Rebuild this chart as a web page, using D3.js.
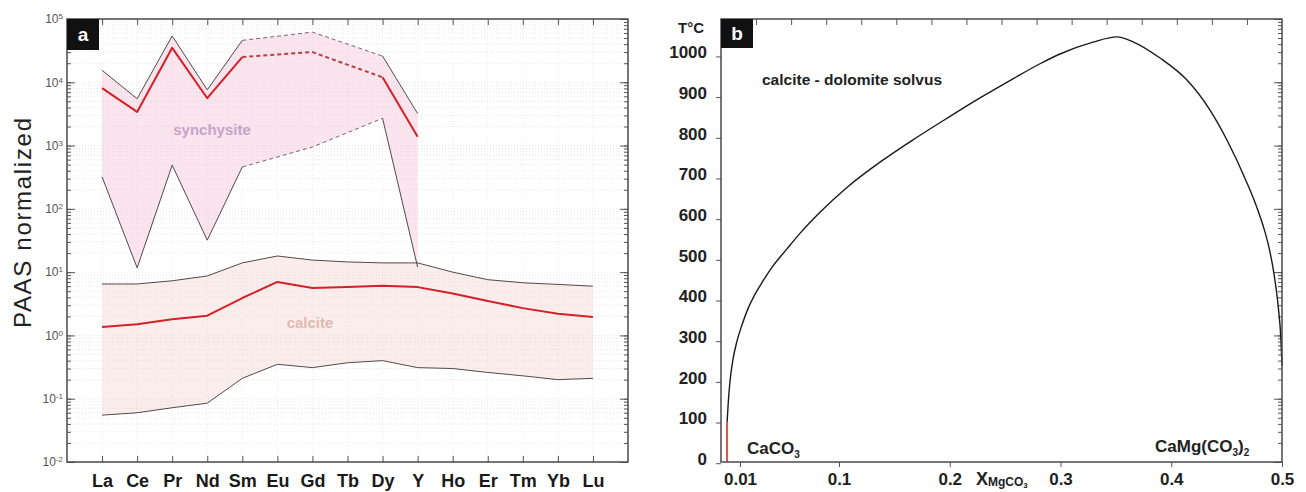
<!DOCTYPE html>
<html><head><meta charset="utf-8">
<script src="https://cdn.jsdelivr.net/npm/d3@7"></script>
<style>
body{margin:0;background:#fff;}
svg{display:block;font-family:"Liberation Sans",Arial,Helvetica,sans-serif;}
</style>
</head><body>
<svg id="c" width="1306" height="492"></svg>
<script>
// ---------- data: panel a (PAAS-normalized REE) ----------
const elements = ["La","Ce","Pr","Nd","Sm","Eu","Gd","Tb","Dy","Y","Ho","Er","Tm","Yb","Lu"];
const synUpper  = [15500, 5500, 54000, 7600, 46000, null, 62000, null, 26000, 3200, null, null, null, null, null];
const synMedian = [8100, 3400, 35000, 5600, 25000, null, 30000, null, 12000, 1380, null, null, null, null, null];
const synLower  = [320, 11.7, 490, 32, 460, null, 950, null, 2700, 12, null, null, null, null, null];
const calUpper  = [6.5, 6.5, 7.3, 8.7, 14, 18, 15.5, 14.5, 14, 14, 10, 7.6, 6.8, 6.4, 6.0];
const calMedian = [1.36, 1.5, 1.8, 2.05, 3.9, 7.0, 5.6, 5.8, 6.1, 5.8, 4.6, 3.5, 2.7, 2.2, 1.95];
const calLower  = [0.055, 0.06, 0.072, 0.085, 0.21, 0.35, 0.31, 0.37, 0.40, 0.31, 0.30, 0.26, 0.23, 0.20, 0.21];
const logDecades = [1e-2, 1e-1, 1e0, 1e1, 1e2, 1e3, 1e4, 1e5];

// ---------- data: panel b (calcite-dolomite solvus) ----------
const solvusX = [0.0032, 0.0037, 0.0047, 0.0063, 0.0084, 0.0118, 0.0173, 0.0236, 0.0309, 0.0400, 0.0527, 0.0645, 0.0827, 0.1072, 0.1370, 0.1668, 0.1975, 0.2273, 0.2571, 0.2815, 0.2996, 0.3294, 0.3510, 0.3655, 0.3899, 0.4142, 0.4350, 0.4504, 0.4684, 0.4765, 0.4828, 0.4883, 0.4928, 0.4964, 0.4991, 0.5000];
const solvusT = [100, 140, 200, 255, 300, 340, 380, 415, 448, 485, 527, 565, 617, 678, 740, 795, 848, 898, 945, 982, 1006, 1035, 1048, 1036, 996, 942, 868, 794, 689, 635, 585, 530, 465, 390, 300, 240];
const redLineX = [0.0032, 0.0032];
const redLineT = [0, 100];
const bTicksX = [0.01, 0.1, 0.2, 0.3, 0.4, 0.5];
const bTicksT = [0, 100, 200, 300, 400, 500, 600, 700, 800, 900, 1000];

// ---------- layout ----------
const svg = d3.select("#c");
const A = {l:67, r:628, t:19, b:462};
const B = {l:721, r:1282, t:19, b:462};

const minorLog = [];
for (let k = -2; k <= 4; k++) for (let m = 1; m <= 9; m++) minorLog.push(m * Math.pow(10, k));
minorLog.push(1e5);

function logFrame(g, P, yScale, xPoints) {
  g.append("g").attr("transform", `translate(${P.r},0)`)
    .call(d3.axisRight(yScale).tickValues(minorLog).tickSize(-4).tickFormat(""))
    .call(s => { s.select(".domain").remove(); s.selectAll("line").attr("stroke", "#555"); });
  g.append("g").attr("transform", `translate(${P.r},0)`)
    .call(d3.axisRight(yScale).tickValues(logDecades).tickSize(-8).tickFormat(""))
    .call(s => { s.select(".domain").remove(); s.selectAll("line").attr("stroke", "#555"); });
  g.append("g").attr("transform", `translate(0,${P.t})`)
    .call(d3.axisTop(xPoints).tickSize(-6).tickFormat(""))
    .call(s => { s.select(".domain").remove(); s.selectAll("line").attr("stroke", "#555"); });
}

// ================= PANEL A =================
const xA = d3.scalePoint().domain(elements).range([A.l, A.r]).padding(1);
const yA = d3.scaleLog().domain([1e-2, 1e5]).range([A.b, A.t]);
const gA = svg.append("g");

gA.append("g").selectAll("line").data(minorLog).join("line")
  .attr("x1", A.l).attr("x2", A.r).attr("y1", d => yA(d)).attr("y2", d => yA(d))
  .attr("stroke", "#dcdcdc").attr("stroke-width", 0.7).attr("stroke-dasharray", "1,2");
gA.append("g").selectAll("line").data(elements).join("line")
  .attr("y1", A.t).attr("y2", A.b).attr("x1", d => xA(d)).attr("x2", d => xA(d))
  .attr("stroke", "#e4e4e4").attr("stroke-width", 0.7).attr("stroke-dasharray", "1,2");

const idxAll = elements.map((e, i) => i);
function defIdx(vals) { return idxAll.filter(i => vals[i] != null); }

function band(upper, lower, fill) {
  const idx = defIdx(upper);
  gA.append("path")
    .attr("d", d3.area().x(i => xA(elements[i])).y0(i => yA(lower[i])).y1(i => yA(upper[i]))(idx))
    .attr("fill", fill).attr("stroke", "none");
}
band(calUpper, calLower, "rgba(246,196,196,0.30)");
band(synUpper, synLower, "rgba(243,185,210,0.38)");

function runs(vals) {
  const idx = defIdx(vals);
  const out = [];
  for (let k = 0; k < idx.length - 1; k++) {
    const dashed = idx[k + 1] - idx[k] > 1;
    const last = out[out.length - 1];
    if (last && last.dashed === dashed) last.pts.push(idx[k + 1]);
    else out.push({dashed, pts: [idx[k], idx[k + 1]]});
  }
  return out;
}
function series(vals, color, width, dashColor) {
  const line = d3.line().x(i => xA(elements[i])).y(i => yA(vals[i]));
  runs(vals).forEach(r => {
    gA.append("path").attr("d", line(r.pts)).attr("fill", "none")
      .attr("stroke", r.dashed ? dashColor : color).attr("stroke-width", width)
      .attr("stroke-dasharray", r.dashed ? "4,3" : null)
      .attr("stroke-linejoin", "round");
  });
}
series(calUpper, "#3d3535", 0.9, "#3d3535");
series(calLower, "#3d3535", 0.9, "#3d3535");
series(calMedian, "#d42027", 2, "#d42027");
series(synUpper, "#3d3535", 0.9, "#6e5258");
series(synLower, "#3d3535", 0.9, "#6e5258");
series(synMedian, "#d42027", 2, "#b8403f");

gA.append("text").attr("x", 212).attr("y", 135).attr("text-anchor", "middle")
  .attr("font-size", 15).attr("font-weight", "bold").attr("fill", "#c9a2c9").text("synchysite");
gA.append("text").attr("x", 310).attr("y", 328).attr("text-anchor", "middle")
  .attr("font-size", 15).attr("font-weight", "bold").attr("fill", "#dcbab4").text("calcite");

// left axis
gA.append("g").attr("transform", `translate(${A.l},0)`)
  .call(d3.axisLeft(yA).tickValues(minorLog).tickSize(-4).tickFormat(""))
  .call(s => { s.select(".domain").remove(); s.selectAll("line").attr("stroke", "#555"); });
gA.append("g").attr("transform", `translate(${A.l},0)`)
  .call(d3.axisLeft(yA).tickValues(logDecades).tickSize(-8).tickPadding(4).tickFormat(""))
  .call(s => {
    s.select(".domain").remove();
    s.selectAll("line").attr("stroke", "#555");
    s.selectAll(".tick text").each(function(d) {
      const t = d3.select(this);
      t.text("10").attr("font-size", 12).attr("fill", "#555").attr("font-family", "Liberation Sans, Arial, sans-serif");
      t.append("tspan").attr("dy", "-0.5em").attr("font-size", 8).text(Math.round(Math.log10(d)));
    });
  });
logFrame(gA, A, yA, xA);

// bottom axis
gA.append("g").attr("transform", `translate(0,${A.b})`)
  .call(d3.axisBottom(xA).tickSize(-6).tickPadding(12))
  .call(s => {
    s.select(".domain").remove();
    s.selectAll("line").attr("stroke", "#555");
    s.selectAll("text").attr("font-size", 18).attr("font-weight", "bold").attr("fill", "#1a1a1a")
      .attr("font-family", "Liberation Sans, Arial, sans-serif");
  });

gA.append("rect").attr("x", A.l).attr("y", A.t).attr("width", A.r - A.l).attr("height", A.b - A.t)
  .attr("fill", "none").attr("stroke", "#4a4a4a").attr("stroke-width", 1.5);

gA.append("text").attr("transform", "translate(22,223) rotate(-90)").attr("text-anchor", "middle")
  .attr("dominant-baseline", "central").attr("font-size", 24).attr("fill", "#222")
  .attr("textLength", 210).attr("lengthAdjust", "spacing").text("PAAS normalized");

gA.append("rect").attr("x", A.l).attr("y", A.t).attr("width", 32).attr("height", 31).attr("fill", "#111");
gA.append("text").attr("x", A.l + 16).attr("y", A.t + 22).attr("text-anchor", "middle")
  .attr("font-size", 19).attr("font-weight", "bold").attr("fill", "#fff").text("a");

// ================= PANEL B =================
const xB = d3.scaleLinear().domain([0, 0.01, 0.1, 0.5]).range([B.l, 740, 839, B.r]);
const yB = d3.scaleLinear().domain([3, 1092]).range([B.b, B.t]);
const xBframe = d3.scalePoint().domain(elements).range([B.l, B.r]).padding(1);
const yBframe = d3.scaleLog().domain([1e-2, 1e5]).range([B.b, B.t]);
const gB = svg.append("g");

logFrame(gB, B, yBframe, xBframe);

gB.append("path")
  .attr("d", d3.line().x(i => xB(redLineX[i])).y(i => yB(Math.max(redLineT[i], 3)))([0, 1]))
  .attr("stroke", "#e0504a").attr("stroke-width", 2).attr("fill", "none");

gB.append("path")
  .attr("d", d3.line().x(i => xB(solvusX[i])).y(i => yB(solvusT[i])).curve(d3.curveMonotoneX)(solvusX.map((d, i) => i)))
  .attr("fill", "none").attr("stroke", "#1a1a1a").attr("stroke-width", 1.4);

gB.append("g").attr("transform", `translate(${B.l},0)`)
  .call(d3.axisLeft(yB).tickValues(bTicksT).tickSize(5).tickPadding(9).tickFormat(d3.format("d")))
  .call(s => {
    s.select(".domain").remove();
    s.selectAll("line").attr("stroke", "#555");
    s.selectAll("text").attr("font-size", 17).attr("font-weight", "bold").attr("fill", "#222")
      .attr("dy", "0.08em").attr("font-family", "Liberation Sans, Arial, sans-serif");
  });
gB.append("g").attr("transform", `translate(0,${B.b})`)
  .call(d3.axisBottom(xB).tickValues(bTicksX).tickSize(5).tickPadding(6).tickFormat(d => String(d)))
  .call(s => {
    s.select(".domain").remove();
    s.selectAll("line").attr("stroke", "#555");
    s.selectAll("text").attr("font-size", 17).attr("font-weight", "bold").attr("fill", "#222")
      .attr("font-family", "Liberation Sans, Arial, sans-serif");
  });

gB.append("rect").attr("x", B.l).attr("y", B.t).attr("width", B.r - B.l).attr("height", B.b - B.t)
  .attr("fill", "none").attr("stroke", "#4a4a4a").attr("stroke-width", 1.5);

gB.append("rect").attr("x", B.l).attr("y", B.t).attr("width", 32).attr("height", 29).attr("fill", "#111");
gB.append("text").attr("x", B.l + 16).attr("y", B.t + 21).attr("text-anchor", "middle")
  .attr("font-size", 19).attr("font-weight", "bold").attr("fill", "#fff").text("b");

gB.append("text").attr("x", 704).attr("y", 33).attr("text-anchor", "end")
  .attr("font-size", 15).attr("font-weight", "bold").attr("fill", "#222").text("T°C");
gB.append("text").attr("x", 762).attr("y", 85)
  .attr("font-size", 15.5).attr("font-weight", "bold").attr("fill", "#222").text("calcite - dolomite solvus");

const t1 = gB.append("text").attr("x", 747).attr("y", 454).attr("font-size", 17).attr("font-weight", "bold").attr("fill", "#222");
t1.append("tspan").text("CaCO");
t1.append("tspan").attr("font-size", 10).attr("dy", 4).text("3");

const t2 = gB.append("text").attr("x", 1155).attr("y", 452).attr("font-size", 17).attr("font-weight", "bold").attr("fill", "#222");
t2.append("tspan").text("CaMg(CO");
t2.append("tspan").attr("font-size", 10).attr("dy", 4).text("3");
t2.append("tspan").attr("dy", -4).text(")");
t2.append("tspan").attr("font-size", 10).attr("dy", 4).text("2");

const t3 = gB.append("text").attr("x", 976).attr("y", 485).attr("font-size", 18).attr("font-weight", "bold").attr("fill", "#222");
t3.append("tspan").text("X");
t3.append("tspan").attr("font-size", 12).attr("dy", 1).text("MgCO");
t3.append("tspan").attr("font-size", 8).attr("dy", 2).text("3");
</script>
</body></html>
